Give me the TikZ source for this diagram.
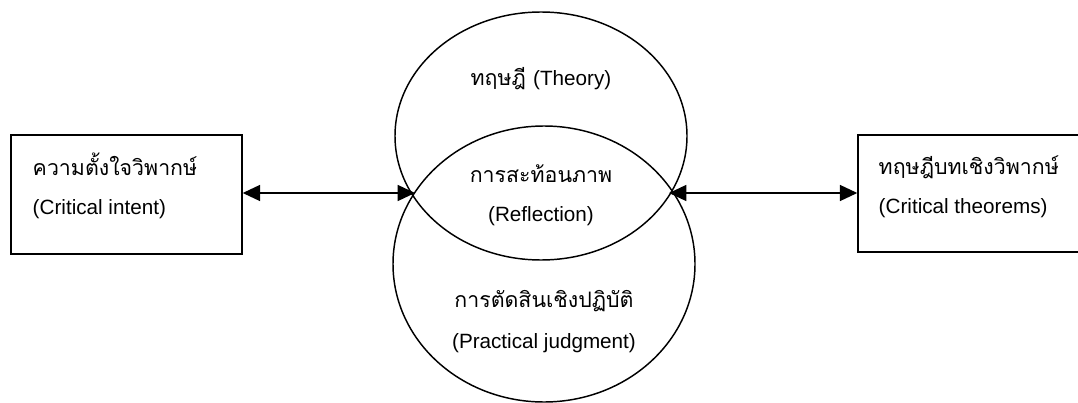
\documentclass[tikz,border=0pt]{standalone}
\usepackage{fontspec}
\setmainfont{Liberation Sans}
\newfontfamily\thaifont[Script=Thai]{Loma}
\usetikzlibrary{shapes.geometric,arrows.meta,intersections}
\begin{document}
\begin{tikzpicture}[x=0.75pt,y=-0.75pt,
  line width=1.1pt,
  box/.style={draw,rectangle,inner sep=0pt},
  circ/.style={draw,ellipse,inner sep=0pt},
  lat/.style={font=\fontsize{15.5}{18}\selectfont,inner sep=0pt},
  thai/.style={font=\thaifont\fontsize{16}{19}\selectfont,inner sep=0pt},
  dbl/.style={{Triangle[length=13pt,width=12pt]}-{Triangle[length=13pt,width=12pt]}}]
\useasboundingbox (0,0) rectangle (1078,403);
\clip (0,0) rectangle (1078,403);
% boxes
\node[box,minimum width=173.25pt,minimum height=89.25pt] (lbox) at (126.5,194.5) {};
\node[box,minimum width=180pt,minimum height=87.75pt] (rbox) at (978,193.5) {};
% ellipses
\node[circ,minimum width=219pt,minimum height=186pt] (topc) at (541,136) {};
\node[circ,minimum width=226.5pt,minimum height=207pt] (botc) at (544,264) {};
\coordinate (li) at (415,193);
\coordinate (ri) at (669,193);
% arrows
\draw[dbl] (lbox.east |- li) -- (li);
\draw[dbl] (ri) -- (rbox.west |- ri);
% texts
\node[thai,anchor=base west] (t1) at (32,175) {ความตั้งใจวิพากษ์};
\node[lat,anchor=base west] (t2) at (32,214) {(Critical intent)};
\node[thai,anchor=base west] (t3) at (878,174) {ทฤษฎีบทเชิงวิพากษ์};
\node[lat,anchor=base west] (t4) at (878,213) {(Critical theorems)};
\node[thai,anchor=base] (t5) at (541,85) {ทฤษฎี \fontspec{Liberation Sans}\fontsize{15.5}{18}\selectfont(Theory)};
\node[thai,anchor=base] (t6) at (541,182) {การสะท้อนภาพ};
\node[lat,anchor=base] (t7) at (541,221) {(Reflection)};
\node[thai,anchor=base] (t8) at (544,307) {การตัดสินเชิงปฏิบัติ};
\node[lat,anchor=base] (t9) at (544,348) {(Practical judgment)};
\end{tikzpicture}
\end{document}
